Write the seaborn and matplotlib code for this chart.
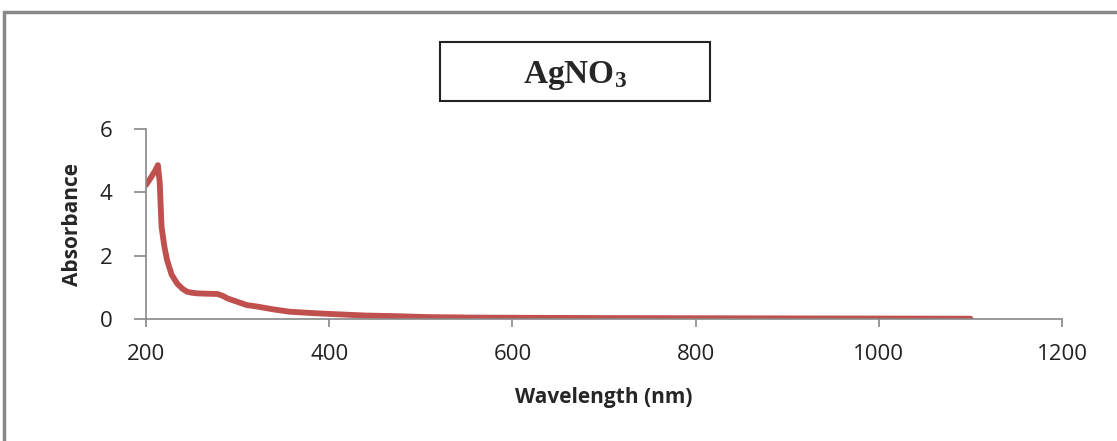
import numpy as np
import pandas as pd
import matplotlib.pyplot as plt
import seaborn as sns
from matplotlib.patches import Rectangle

# Espectro UV-Vis do AgNO3
wavelength = [200, 205, 210, 213, 215, 217, 220, 223, 228, 234, 240, 245, 250, 256,
              265, 278, 284, 289, 300, 310, 320, 328, 340, 357, 380, 401, 440, 473,
              509, 560, 600, 700, 800, 900, 1000, 1100]
absorbance = [4.23, 4.45, 4.68, 4.86, 4.3, 2.91, 2.3, 1.86, 1.4, 1.12, 0.95, 0.86, 0.83, 0.81,
              0.8, 0.79, 0.73, 0.65, 0.54, 0.44, 0.4, 0.36, 0.3, 0.23, 0.19, 0.16, 0.11, 0.09,
              0.06, 0.045, 0.04, 0.03, 0.025, 0.02, 0.015, 0.01]

x_ticks = [200, 400, 600, 800, 1000, 1200]
y_ticks = [0, 2, 4, 6]

df = pd.DataFrame({'wavelength': wavelength, 'absorbance': absorbance})

sns.set_style('white')
plt.rcParams['font.family'] = ['Open Sans', 'DejaVu Sans']
plt.rcParams['mathtext.fontset'] = 'custom'
plt.rcParams['mathtext.rm'] = 'Liberation Serif'
plt.rcParams['mathtext.bf'] = 'Liberation Serif:bold'

fig = plt.figure(figsize=(11.17, 4.41), dpi=100)
ax = fig.add_axes([0.1307, 0.2766, 0.8201, 0.4309])

sns.lineplot(data=df, x='wavelength', y='absorbance', ax=ax, color='#C0504D', linewidth=4.2,
             solid_joinstyle='round', solid_capstyle='round')

ax.set_xlim(200, 1200)
ax.set_ylim(0, 6)
ax.set_xticks(x_ticks)
ax.set_yticks(y_ticks)
ax.set_xlabel('Wavelength (nm)', fontsize=15, fontweight='bold', labelpad=16)
ax.set_ylabel('Absorbance', fontsize=15, fontweight='bold', labelpad=12)

# Só eixos esquerdo e inferior, cinzentos
for side in ['top', 'right']:
    ax.spines[side].set_visible(False)
for side in ['left', 'bottom']:
    ax.spines[side].set_color('#888888')
    ax.spines[side].set_linewidth(1.2)
ax.tick_params(axis='both', bottom=True, left=True, direction='out', width=1.2,
               color='#888888', labelsize=16, labelcolor='#222222')
ax.tick_params(axis='x', length=6, pad=12)
ax.tick_params(axis='y', length=9, pad=15)

# Caixa do título
fig.text(575 / 1117, 1 - 75 / 441, r'$\mathbf{AgNO_3}$', fontsize=24,
         ha='center', va='center')
fig.patches.append(Rectangle((440 / 1117, 1 - 101 / 441), 270 / 1117, 59 / 441,
                             transform=fig.transFigure, fill=False, edgecolor='#222222', linewidth=1.5))

# Moldura exterior
fig.patches.append(Rectangle((4 / 1117, -0.1), 1.2, 1 - 12 / 441 + 0.1,
                             transform=fig.transFigure, fill=False, edgecolor='#888888', linewidth=2.5))

fig.savefig('out.png', dpi=100)
